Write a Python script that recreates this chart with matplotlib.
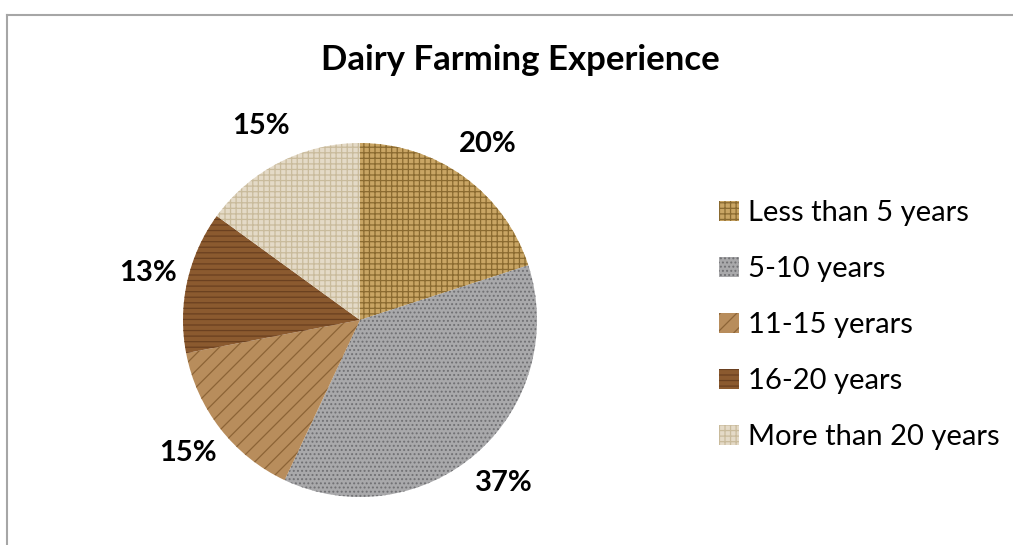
import matplotlib.pyplot as plt
from matplotlib.lines import Line2D
import numpy as np

# data
categories = ["Less than 5 years", "5-10 years", "11-15 yerars", "16-20 years", "More than 20 years"]
shares = [20, 37, 15, 13, 15]
pct_labels = ["20%", "37%", "15%", "13%", "15%"]

# texture-ish look: base colour + hatch colour + hatch pattern
colors = ["#c9a564", "#a9a9ab", "#b88d5c", "#8b5a2f", "#e4dac7"]
hatch_colors = ["#8a6a30", "#707073", "#8c6436", "#6a4020", "#c9bb9c"]
hatches = ["+++", "....", "//", "---", "+++"]

plt.rcParams['font.family'] = ['Lato', 'DejaVu Sans']
plt.rcParams['hatch.linewidth'] = 0.9

fig = plt.figure(figsize=(10.13, 5.45), dpi=100)
W, H = 1013, 545
cx, cy, r = 360, 320, 177
ax = fig.add_axes([(cx - r) / W, (H - cy - r) / H, 2 * r / W, 2 * r / H])

wedges, _ = ax.pie(shares, startangle=90, counterclock=False, colors=colors,
                   wedgeprops=dict(linewidth=0))
for w, hc, h in zip(wedges, hatch_colors, hatches):
    w.set_hatch(h)
    w.set_edgecolor(hc)
    w.set_linewidth(0)

# percentage labels just outside the pie
for w, lab in zip(wedges, pct_labels):
    ang = np.deg2rad((w.theta1 + w.theta2) / 2)
    ax.text(1.23 * np.cos(ang), 1.23 * np.sin(ang), lab, ha='center', va='center',
            fontsize=21, fontweight='bold')
ax.set_xlim(-1, 1)
ax.set_ylim(-1, 1)
ax.set_aspect('equal')

fig.text(520 / W, 1 - 60 / H, "Dairy Farming Experience", ha='center', va='center',
         fontsize=25, fontweight='bold')

leg = fig.legend(wedges, categories, loc='upper left', bbox_to_anchor=(719 / W, 1 - 200 / H),
                 frameon=False, fontsize=21, handlelength=0.7, handleheight=0.7,
                 handletextpad=0.3, labelspacing=1.03, borderpad=0, borderaxespad=0)

# chart frame (top and left edges visible)
fig.add_artist(Line2D([7 / W, 7 / W], [0, 1 - 15 / H], color="#a6a6a6", lw=1.5))
fig.add_artist(Line2D([7 / W, 1], [1 - 15 / H, 1 - 15 / H], color="#a6a6a6", lw=1.5))

fig.savefig("out.png", dpi=100)
